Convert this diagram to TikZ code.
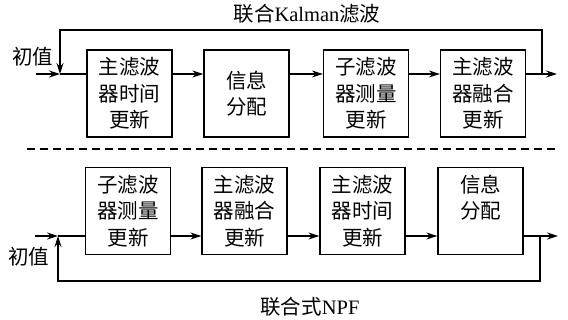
\documentclass[tikz,border=0pt]{standalone}
\usepackage{fontspec}
\setmainfont{Liberation Serif}
\newfontfamily\cjk{Noto Sans CJK SC}
\usetikzlibrary{arrows.meta}
\begin{document}
\begin{tikzpicture}[x=1pt,y=-1pt,
  every node/.style={font=\fontsize{20.5}{26.5}\selectfont},
  blk/.style={draw,line width=1.3pt,minimum width=85pt,minimum height=87pt,align=center,inner sep=0pt,font=\cjk\fontsize{20.5}{26.5}\selectfont},
  ln/.style={line width=1.1pt},
  arr/.style={ln,-{Stealth[length=11pt,width=7pt]}},
  lbl/.style={inner sep=0pt}]
\useasboundingbox (0,0) rectangle (568,320);
% top row
\node[blk] (t1) at (129.5,93.5) {主滤波\\器时间\\更新};
\node[blk] (t2) at (246.5,93.5) {信息\\分配};
\node[blk] (t3) at (366,93.5) {子滤波\\器测量\\更新};
\node[blk] (t4) at (483,93.5) {主滤波\\器融合\\更新};
\coordinate (tin) at (36,74);
\coordinate (tj) at (60,74);
\coordinate (tfb) at (542,74);
\coordinate (tout) at (557,74);
\coordinate (ttop) at (0,30);
\node[lbl,font=\cjk\fontsize{20.5}{26.5}\selectfont] (tinit) at (33,57) {初值};
\node[lbl] (ttitle) at (307,14) {{\cjk 联合}Kalman{\cjk 滤波}};
\draw[arr] (tin) -- (tj);
\draw[ln] (tj) -- (t1.west |- tj);
\draw[arr] (t1.east |- tj) -- (t2.west |- tj);
\draw[arr] (t2.east |- tj) -- (t3.west |- tj);
\draw[arr] (t3.east |- tj) -- (t4.west |- tj);
\draw[arr] (t4.east |- tj) -- (tout);
\draw[arr] (tfb) -- (tfb |- ttop) -- (tj |- ttop) -- (tj);
% dashed separator
\coordinate (d1) at (27,149);
\coordinate (d2) at (557,149);
\draw[line width=1.1pt,dash pattern=on 8pt off 5pt] (d1) -- (d2);
% bottom row
\node[blk] (b1) at (128,211) {子滤波\\器测量\\更新};
\node[blk] (b2) at (244.5,211) {主滤波\\器融合\\更新};
\node[blk] (b3) at (362.5,211) {主滤波\\器时间\\更新};
\node[blk] (b4) at (480.5,211) {信息\\分配\\\phantom{更新}};
\coordinate (bin) at (35,236);
\coordinate (bj) at (58,236);
\coordinate (bfb) at (540,236);
\coordinate (bout) at (558,236);
\coordinate (bbot) at (0,281);
\node[lbl,font=\cjk\fontsize{20.5}{26.5}\selectfont] (binit) at (29,257) {初值};
\node[lbl] (btitle) at (310,307) {{\cjk 联合式}NPF};
\draw[arr] (bin) -- (bj);
\draw[ln] (bj) -- (b1.west |- bj);
\draw[arr] (b1.east |- bj) -- (b2.west |- bj);
\draw[arr] (b2.east |- bj) -- (b3.west |- bj);
\draw[arr] (b3.east |- bj) -- (b4.west |- bj);
\draw[arr] (b4.east |- bj) -- (bout);
\draw[arr] (bfb) -- (bfb |- bbot) -- (bj |- bbot) -- (bj);
\end{tikzpicture}
\end{document}
